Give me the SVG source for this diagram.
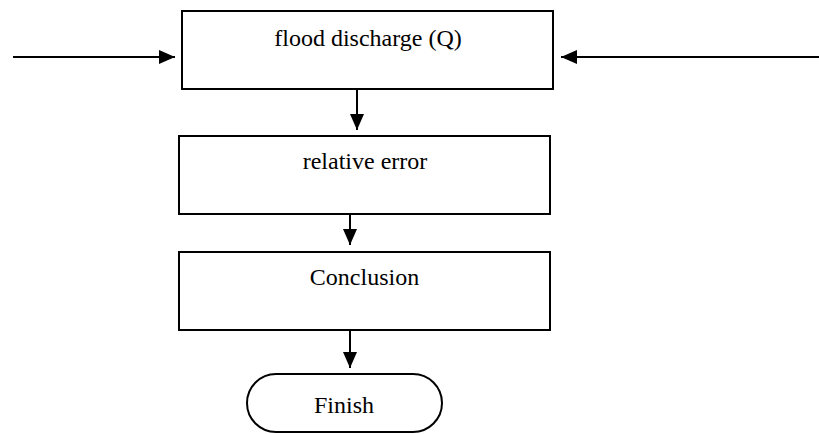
<svg xmlns="http://www.w3.org/2000/svg" width="819" height="434" viewBox="0 0 819 434">
<style>
.box{fill:#fff;stroke:#000;stroke-width:2}
.lbl{font-family:"Liberation Serif","Times New Roman",serif;font-size:24px;fill:#000;text-anchor:middle}
.con{stroke:#000;stroke-width:2;fill:none}
</style>
<defs>
<marker id="ah" viewBox="0 0 16 14" refX="16" refY="7" markerWidth="16" markerHeight="14" markerUnits="userSpaceOnUse" orient="auto">
<path d="M0,0 L16,7 L0,14 Z" fill="#000"/>
</marker>
</defs>
<rect width="819" height="434" fill="#fff"/>
<g id="n1"><rect class="box" x="182" y="11" width="371" height="78"/><text class="lbl" x="368" y="46">flood discharge (Q)</text></g>
<g id="n2"><rect class="box" x="179" y="136" width="371" height="78"/><text class="lbl" x="365" y="169">relative error</text></g>
<g id="n3"><rect class="box" x="179" y="252" width="371" height="78"/><text class="lbl" x="364.5" y="285">Conclusion</text></g>
<g id="n4"><rect class="box" x="247" y="374" width="195" height="58" rx="29" ry="29"/><text class="lbl" x="344" y="413">Finish</text></g>
<g id="connectors">
<line class="con" x1="13" y1="57" x2="175" y2="57" marker-end="url(#ah)"/>
<line class="con" x1="820" y1="57" x2="561" y2="57" marker-end="url(#ah)"/>
<line class="con" x1="357" y1="89" x2="357" y2="130" marker-end="url(#ah)"/>
<line class="con" x1="350" y1="214" x2="350" y2="245" marker-end="url(#ah)"/>
<line class="con" x1="350" y1="330" x2="350" y2="368" marker-end="url(#ah)"/>
</g>
</svg>
